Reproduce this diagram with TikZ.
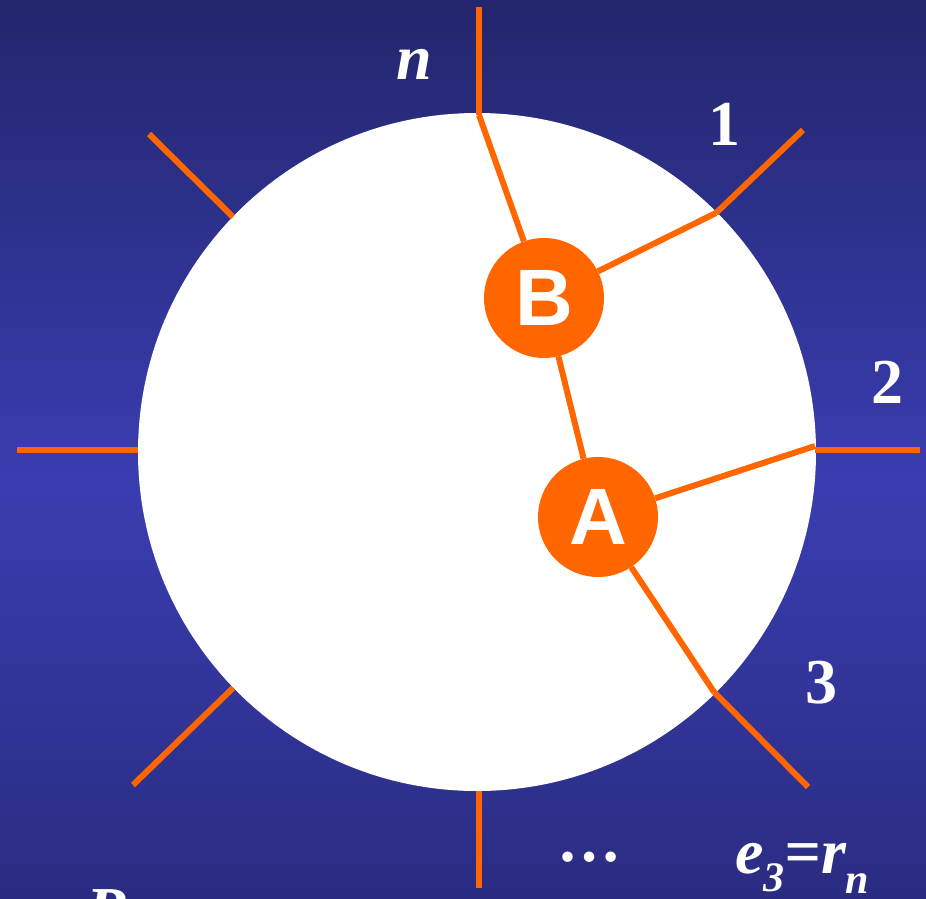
\documentclass[tikz,border=0pt]{standalone}
\usepackage{fontspec}
\setmainfont{Liberation Serif}
\newfontfamily\sansb{Liberation Sans}[BoldFont={* Bold}]
\definecolor{bgtop}{RGB}{35,38,108}
\definecolor{bgmid}{RGB}{58,61,176}
\definecolor{bgbot}{RGB}{42,44,130}
\definecolor{orng}{RGB}{255,102,0}
\tikzset{
  edge/.style={draw=orng, line width=6pt},
  vtx/.style={circle, fill=orng, minimum size=120pt, inner sep=0pt, text=white,
              font=\sansb\bfseries\fontsize{80}{80}\selectfont},
  lbl/.style={text=white, inner sep=0pt, anchor=base, font=\bfseries\fontsize{64}{64}\selectfont},
  ilbl/.style={lbl, font=\bfseries\itshape\fontsize{64}{64}\selectfont},
}
\begin{document}
\begin{tikzpicture}[x=1pt,y=-1pt]
\useasboundingbox (0,0) rectangle (926,899);
\clip (0,0) rectangle (926,899);
\shade[top color=bgtop, bottom color=bgmid] (0,0) rectangle (926,481);
\shade[top color=bgmid, bottom color=bgbot] (0,480) rectangle (926,899);
\node[circle, fill=white, minimum size=678pt, inner sep=0pt] (disk) at (477,452) {};
% points on the circle and outer ends
\coordinate (pN) at (479,115);  \coordinate (oN) at (479,7);
\coordinate (p1) at (716,213);  \coordinate (o1) at (803,130);
\coordinate (p2) at (815,446);  \coordinate (q2) at (815,450); \coordinate (o2) at (920,450);
\coordinate (p3) at (714,692);  \coordinate (o3) at (808,787);
\coordinate (cUL) at (233,217); \coordinate (oUL) at (149,134);
\coordinate (cL) at (138,450);  \coordinate (oL) at (17,450);
\coordinate (cLL) at (233,688); \coordinate (oLL) at (133,785);
\coordinate (cB) at (479,791);  \coordinate (oB) at (479,888);
% outer legs
\draw[edge] (pN) -- (oN);
\draw[edge] (p1) -- (o1);
\draw[edge] (q2) -- (o2);
\draw[edge] (p3) -- (o3);
\draw[edge] (cUL) -- (oUL);
\draw[edge] (cL) -- (oL);
\draw[edge] (cLL) -- (oLL);
\draw[edge] (cB) -- (oB);
% vertices
\node[vtx] (B) at (544,298) {B};
\node[vtx] (A) at (598,517) {A};
% inner edges
\draw[edge] (pN) -- (B);
\draw[edge] (B) -- (p1);
\draw[edge] (B) -- (A);
\draw[edge] (A) -- (p2);
\draw[edge] (A) -- (p3);
% labels
\node[ilbl] (ln) at (414,80) {n};
\node[lbl] (l1) at (724,145) {1};
\node[lbl] (l2) at (887,403) {2};
\node[lbl] (l3) at (821,703) {3};
\node[lbl] (ldots) at (589,861) {…};
\node[ilbl, anchor=base west] (le) at (735,873)
  {e\raisebox{-18pt}{\fontsize{42}{42}\selectfont 3}=r\raisebox{-20pt}{\fontsize{42}{42}\selectfont n}};
\node[ilbl, anchor=base west] (lR) at (86,931) {R};
\end{tikzpicture}
\end{document}
